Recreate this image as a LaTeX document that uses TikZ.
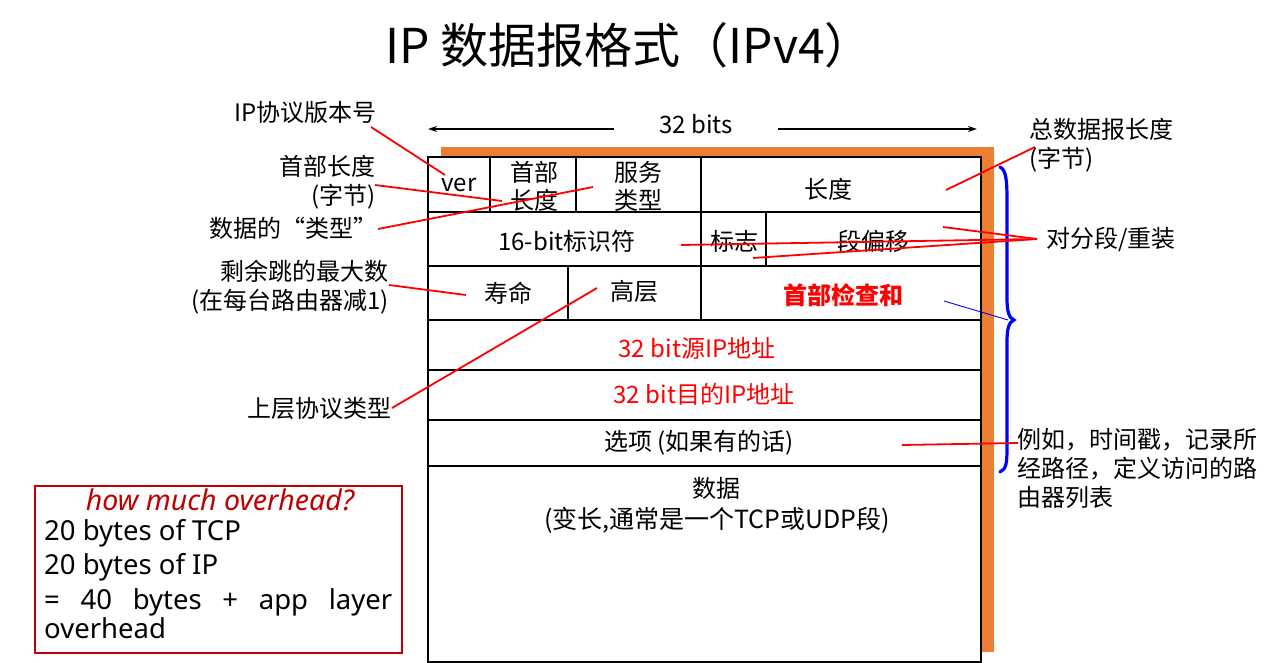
\documentclass[tikz,border=0pt]{standalone}
\usepackage{fontspec}
\setmainfont{Noto Sans CJK SC}
\newfontfamily\latinfont{Noto Sans}
\usetikzlibrary{arrows.meta}
\definecolor{hdrorange}{HTML}{ED7D31}
\definecolor{boxred}{HTML}{C00000}
\definecolor{fieldred}{HTML}{FF0000}
\definecolor{bracecol}{HTML}{0000FF}
\begin{document}
\begin{tikzpicture}[x=1pt,y=-1pt,
  field/.style={font=\fontsize{24}{28}\selectfont, align=center, inner sep=0pt},
  note/.style={font=\fontsize{24}{29}\selectfont, inner sep=0pt},
  boxtext/.style={font=\latinfont\fontsize{27.5}{30}\selectfont, inner sep=0pt},
  callout/.style={draw=fieldred, line width=1.8pt},
  grid/.style={line width=2.4pt, draw=black},
  widtharrow/.style={line width=1.4pt, -{Stealth[length=9pt,width=6pt]}},
]
\useasboundingbox (0,0) rectangle (1280,663);

% title
\node[inner sep=0pt] (title) at (629,45) {\fontsize{48}{52}\selectfont IP 数据报格式（IPv4）};

% width indicator
\node[field] (bits) at (696,124) {32 bits};
\coordinate (bitsL) at (614,129);
\coordinate (bitsR) at (778,129);
\coordinate (edgeL) at (428,129);
\coordinate (edgeR) at (977,129);
\draw[widtharrow] (bitsL) -- (edgeL);
\draw[widtharrow] (bitsR) -- (edgeR);

% orange shadow behind the header table
\fill[hdrorange] (441,147) rectangle (994,652);

% header table
\filldraw[grid, fill=white] (428,157) rectangle (981,662);
\foreach \yy in {212,266,320,370,420,466}
  \draw[grid] (428,\yy) -- (981,\yy);
\draw[grid] (490,157) -- (490,212);
\draw[grid] (576,157) -- (576,212);
\draw[grid] (701,157) -- (701,212);
\draw[grid] (701,212) -- (701,266);
\draw[grid] (766,212) -- (766,266);
\draw[grid] (568,266) -- (568,320);
\draw[grid] (701,266) -- (701,320);

% field labels
\node[field] (ver) at (459,185) {ver};
\node[field] (hlen) at (534,186) {首部\\长度};
\node[field] (tos) at (638,186) {服务\\类型};
\node[field] (len) at (828,189) {长度};
\node[field] (ident) at (567,241) {16-bit标识符};
\node[field] (flags) at (734,241) {标志};
\node[field] (offset) at (873,241) {段偏移};
\node[field] (ttl) at (508,293) {寿命};
\node[field] (proto) at (634,291) {高层};
\node[field, text=fieldred, font=\fontsize{24}{28}\selectfont\bfseries] (csum) at (843,295) {首部检查和};
\node[field, text=fieldred] (src) at (697,348) {32 bit源IP地址};
\node[field, text=fieldred] (dst) at (704,394) {32 bit目的IP地址};
\node[field] (opts) at (699,443) {选项 (如果有的话)};
\node[field] (data) at (716,488) {数据};
\node[field, font=\fontsize{25}{28}\selectfont] (datanote) at (717,520) {(变长,通常是一个TCP或UDP段)};

% brace over the header rows
\draw[bracecol, line width=3.2pt, line cap=round]
  (1000,167) .. controls (1006,170) and (1007,180) .. (1007,200)
  -- (1007,298) .. controls (1007,312) and (1009,318) .. (1014,320)
  .. controls (1009,322) and (1007,328) .. (1007,342)
  -- (1007,448) .. controls (1007,464) and (1006,469) .. (1000,472);

% annotations, left side
\node[note, anchor=east] (verN) at (377,112) {IP协议版本号};
\node[note, anchor=east, align=right] (hlenN) at (376,182) {首部长度\\(字节)};
\node[note, anchor=east] (tosN) at (378,228) {数据的“类型”};
\node[note, anchor=east, align=right] (ttlN) at (389,287) {剩余跳的最大数\\(在每台路由器减1)};
\node[note, anchor=east] (protoN) at (392,408) {上层协议类型};

% annotations, right side
\node[note, anchor=west, align=left] (lenN) at (1029,145) {总数据报长度\\(字节)};
\node[note, anchor=west] (fragN) at (1046,239) {对分段/重装};
\node[note, anchor=west, align=left] (optsN) at (1017,468) {例如，时间戳，记录所\\经路径，定义访问的路\\由器列表};

% callout end points
\coordinate (verA) at (371,127);   \coordinate (verB) at (445,175);
\coordinate (hlenA) at (375,185);  \coordinate (hlenB) at (502,201);
\coordinate (tosA) at (378,229);   \coordinate (tosB) at (593,187);
\coordinate (ttlA) at (389,285);   \coordinate (ttlB) at (466,295);
\coordinate (protoA) at (392,408); \coordinate (protoB) at (597,288);
\coordinate (lenA) at (1035,147);  \coordinate (lenB) at (946,190);
\coordinate (fragA) at (1037,239);
\coordinate (fragB1) at (943,227);
\coordinate (fragB2) at (681,245);
\coordinate (fragB3) at (753,258);
\coordinate (csumA) at (944,301);  \coordinate (braceTip) at (1008,320);
\coordinate (optsA) at (902,445);  \coordinate (optsB) at (1018,443);

\draw[callout] (verA) -- (verB);
\draw[callout] (hlenA) -- (hlenB);
\draw[callout] (tosA) -- (tosB);
\draw[callout] (ttlA) -- (ttlB);
\draw[callout] (protoA) -- (protoB);
\draw[callout] (lenA) -- (lenB);
\draw[callout] (fragA) -- (fragB1);
\draw[callout] (fragA) -- (fragB2);
\draw[callout] (fragA) -- (fragB3);
\draw[callout] (optsA) -- (optsB);
\draw[bracecol, line width=0.9pt] (csumA) -- (braceTip);

% overhead box
\draw[boxred, line width=1.2pt] (35,486) rectangle (402,653);
\node[boxtext, text=boxred, font=\latinfont\fontsize{28.5}{30}\selectfont\itshape] (ohq) at (220,500) {how much overhead?};
\node[boxtext, anchor=west] (oh1) at (44,533) {20 bytes of TCP};
\node[boxtext, anchor=west] (oh2) at (44,567) {20 bytes of IP};
\node[boxtext, anchor=west] (oh3) at (44,602)
  {\makebox[348pt][s]{=\hfill 40\hfill bytes\hfill +\hfill app\hfill layer}};
\node[boxtext, anchor=west] (oh4) at (44,628) {overhead};
\end{tikzpicture}
\end{document}
